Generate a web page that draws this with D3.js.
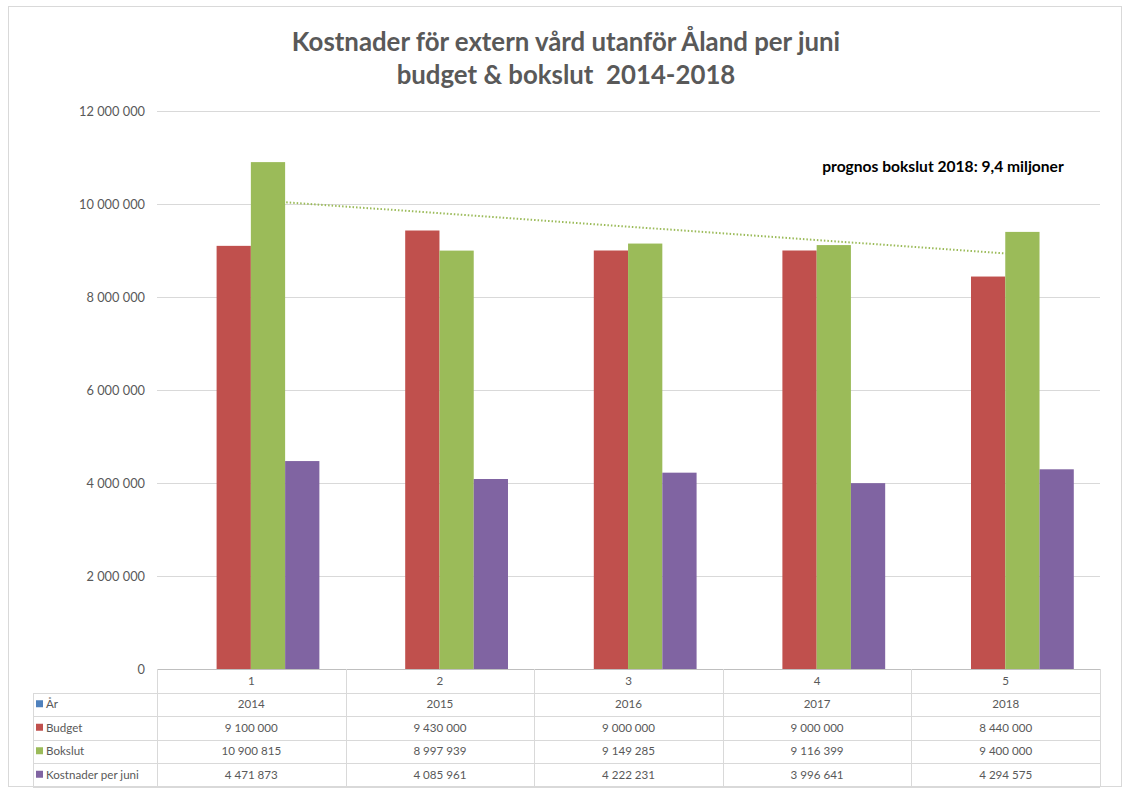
<!DOCTYPE html>
<html><head><meta charset="utf-8">
<script src="https://cdn.jsdelivr.net/npm/d3@7"></script>
<style>
html,body{margin:0;padding:0;background:#fff;}
svg{display:block;}
</style></head>
<body>
<svg id="chart" width="1129" height="790"></svg>
<script>
const categories = ["1","2","3","4","5"];
const years = ["2014","2015","2016","2017","2018"];
const budget = [9100000, 9430000, 9000000, 9000000, 8440000];
const bokslut = [10900815, 8997939, 9149285, 9116399, 9400000];
const kostnader = [4471873, 4085961, 4222231, 3996641, 4294575];
const yTicks = [0, 2000000, 4000000, 6000000, 8000000, 10000000, 12000000];
const titleLines = ["Kostnader för extern vård utanför Åland per juni", "budget & bokslut  2014-2018"];
const annotation = "prognos bokslut 2018: 9,4 miljoner";
const seriesNames = ["Budget", "Bokslut", "Kostnader per juni"];
const colors = {"År":"#4F81BD","Budget":"#C0504D","Bokslut":"#9BBB59","Kostnader per juni":"#8064A2"};

(function(){
const svg = d3.select("#chart");
const fmt = v => d3.format(",")(v).replace(/,/g, " ");

// outer chart border
svg.append("rect").attr("x",8.5).attr("y",6.5).attr("width",1113).attr("height",780)
  .attr("fill","#fff").attr("stroke","#d9d9d9");

const pl = 157, pr = 1100, pt = 111, pb = 669;
const x = d3.scaleBand().domain(categories).range([pl, pr]).padding(0);
const y = d3.scaleLinear().domain([0, 12000000]).range([pb, pt]);

const groupW = x.bandwidth() * 0.545;
const groupOff = x.bandwidth() * 0.316;
const xs = d3.scaleBand().domain(seriesNames).range([0, groupW]).padding(0);

// gridlines
svg.append("g").selectAll("line").data(yTicks.filter(d=>d>0)).join("line")
  .attr("x1", pl).attr("x2", pr)
  .attr("y1", d=>Math.round(y(d))+0.5).attr("y2", d=>Math.round(y(d))+0.5)
  .attr("stroke","#d9d9d9").attr("stroke-width",1);

// y axis labels
const yAxis = d3.axisLeft(y).tickValues(yTicks).tickSize(0).tickPadding(12).tickFormat(fmt);
const ga = svg.append("g").attr("transform",`translate(${pl},0)`).call(yAxis);
ga.select(".domain").remove();
ga.selectAll("text").attr("font-family","Lato, 'Open Sans', sans-serif").attr("font-size",12.8).attr("fill","#595959");

// linear trendline of Bokslut (least squares, as the spreadsheet's trendline)
const xi = categories.map((c,i)=>i+1);
const mx = d3.mean(xi), my = d3.mean(bokslut);
const slope = d3.sum(xi.map((v,i)=>(v-mx)*(bokslut[i]-my))) / d3.sum(xi.map(v=>(v-mx)*(v-mx)));
const icpt = my - slope*mx;
const trend = [1,5].map(v => [x(categories[v-1]) + x.bandwidth()/2, y(icpt + slope*v)]);
svg.append("path").attr("d", d3.line()(trend)).attr("fill","none")
  .attr("stroke","#9BBB59").attr("stroke-width",2).attr("stroke-dasharray","1.5,2");

// bars
const seriesData = [budget, bokslut, kostnader];
seriesNames.forEach((s, si) => {
  svg.append("g").selectAll("rect").data(categories).join("rect")
    .attr("x", (c) => x(c) + groupOff + xs(s))
    .attr("width", xs.bandwidth())
    .attr("y", (c,i) => y(seriesData[si][i]))
    .attr("height", (c,i) => y(0) - y(seriesData[si][i]))
    .attr("fill", colors[s]);
});

// data table
const rowH = 23.5;
const tbl = svg.append("g");
const gridC = "#d9d9d9";
const tfont = "Lato, 'Open Sans', sans-serif";
const tsize = 11.6;
tbl.append("line").attr("x1",pl).attr("x2",pr).attr("y1",pb+0.5).attr("y2",pb+0.5).attr("stroke","#bfbfbf");
const rows = [
  {name:"År", vals: years},
  {name:"Budget", vals: budget.map(fmt)},
  {name:"Bokslut", vals: bokslut.map(fmt)},
  {name:"Kostnader per juni", vals: kostnader.map(fmt)}
];
const tableBottom = pb + rowH*5;
for (let r=1; r<=5; r++) {
  const yy = Math.round(pb + rowH*r)+0.5;
  tbl.append("line").attr("x1",33).attr("x2",pr).attr("y1",yy).attr("y2",yy).attr("stroke",gridC);
}
const vx = [pl].concat(categories.map(c=>x(c)+x.bandwidth()));
vx.forEach(v => tbl.append("line").attr("x1",Math.round(v)+0.5).attr("x2",Math.round(v)+0.5)
  .attr("y1",pb).attr("y2",Math.round(tableBottom)).attr("stroke",gridC));
tbl.append("line").attr("x1",33.5).attr("x2",33.5).attr("y1",Math.round(pb+rowH)).attr("y2",Math.round(tableBottom)).attr("stroke",gridC);
tbl.selectAll("text.hdr").data(categories).join("text").attr("class","hdr")
  .attr("x", c=>x(c)+x.bandwidth()/2).attr("y", pb+rowH/2).attr("dy","0.35em")
  .attr("text-anchor","middle").attr("font-family",tfont).attr("font-size",tsize).attr("fill","#595959").text(c=>c);
rows.forEach((row, ri) => {
  const cy = pb + rowH*(ri+1) + rowH/2;
  tbl.append("rect").attr("x",36).attr("y",cy-4).attr("width",7).attr("height",7).attr("fill",colors[row.name]);
  tbl.append("text").attr("x",46).attr("y",cy).attr("dy","0.35em").attr("font-family",tfont)
    .attr("font-size",tsize).attr("fill","#595959").text(row.name);
  tbl.append("g").selectAll("text").data(categories).join("text")
    .attr("x", c=>x(c)+x.bandwidth()/2).attr("y", cy).attr("dy","0.35em")
    .attr("text-anchor","middle").attr("font-family",tfont).attr("font-size",tsize).attr("fill","#595959")
    .text((c,i)=>row.vals[i]);
});

// title
svg.append("g").selectAll("text").data(titleLines).join("text")
  .attr("x", 566).attr("y", (d,i)=>51 + i*33)
  .attr("text-anchor","middle").attr("font-family","Lato, 'Open Sans', sans-serif")
  .attr("font-weight","bold").attr("font-size",25.8).attr("fill","#595959")
  .style("white-space","pre").text(d=>d);

// annotation
svg.append("text").attr("x", 943).attr("y", 172).attr("text-anchor","middle")
  .attr("font-family","Lato, 'Open Sans', sans-serif").attr("font-weight","bold")
  .attr("font-size",15.6).attr("fill","#000").text(annotation);
})();
</script>
</body></html>
